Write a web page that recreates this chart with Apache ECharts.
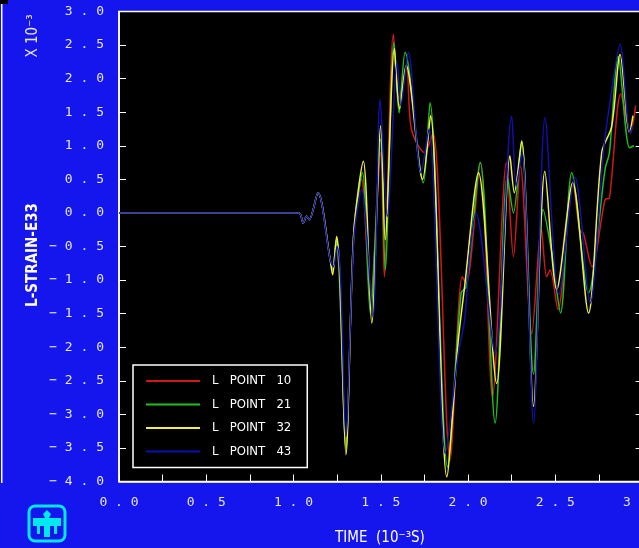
<!DOCTYPE html>
<html>
<head>
<meta charset="utf-8">
<script src="https://cdn.jsdelivr.net/npm/echarts@6/dist/echarts.min.js"></script>
<style>
html,body{margin:0;padding:0;background:#1515ee;}
#chart{width:639px;height:548px;}
</style>
</head>
<body>
<div id="chart"></div>
<script>
// ---- data (time in 1e-3 s, strain in 1e-3) ----
const seriesNames = ['L POINT 10', 'L POINT 21', 'L POINT 32', 'L POINT 43'];
const seriesColors = ['#d01818', '#20c020', '#f0f040', '#1010b0'];

const point10 = [[0,0],[1.03,0],[1.055,-0.15],[1.075,-0.05],[1.09,-0.1],[1.14,0.3],[1.21,-0.7],[1.225,-0.82],[1.245,-0.45],[1.262,-0.9],[1.30,-3.45],[1.345,-0.4],[1.39,0.5],[1.44,-1.3],[1.50,0.9],[1.52,-0.95],[1.572,2.66],[1.605,1.7],[1.648,2.15],[1.675,1.25],[1.75,0.9],[1.80,1.19],[1.897,-3.68],[1.966,-0.95],[1.99,-1.05],[2.07,0.75],[2.14,-2.74],[2.22,0.75],[2.26,-0.65],[2.30,0.7],[2.365,-1.8],[2.42,-0.25],[2.45,-0.95],[2.47,-0.85],[2.515,-1.44],[2.60,0.45],[2.64,-0.27],[2.66,-0.3],[2.71,-0.8],[2.785,0.2],[2.81,0.22],[2.875,1.77],[2.93,1.19],[2.96,1.6]];

const point21 = [[0,0],[1.03,0],[1.055,-0.15],[1.075,-0.05],[1.09,-0.1],[1.14,0.3],[1.21,-0.7],[1.225,-0.85],[1.245,-0.4],[1.262,-0.9],[1.30,-3.5],[1.345,-0.3],[1.395,0.6],[1.44,-1.5],[1.50,1.1],[1.525,-0.85],[1.575,2.54],[1.605,1.49],[1.639,2.39],[1.744,0.45],[1.782,1.64],[1.882,-3.78],[1.96,-1.19],[1.99,-1.1],[2.07,0.75],[2.155,-3.13],[2.225,0.55],[2.26,0.0],[2.307,1.07],[2.375,-2.4],[2.43,0.05],[2.48,-0.6],[2.53,-1.49],[2.594,0.6],[2.69,-1.19],[2.785,0.65],[2.81,0.9],[2.86,2.33],[2.925,0.97],[2.95,1.0]];

const point32 = [[0,0],[1.03,0],[1.055,-0.15],[1.075,-0.05],[1.09,-0.1],[1.14,0.3],[1.21,-0.7],[1.224,-0.92],[1.247,-0.35],[1.265,-0.9],[1.30,-3.6],[1.345,-0.3],[1.40,0.77],[1.448,-1.64],[1.50,1.3],[1.525,-0.4],[1.578,2.45],[1.607,1.55],[1.645,2.2],[1.74,0.5],[1.785,1.45],[1.878,-3.93],[1.944,-1.9],[1.98,-1.1],[2.06,0.6],[2.164,-2.54],[2.24,0.85],[2.265,0.3],[2.307,1.07],[2.375,-2.88],[2.44,0.62],[2.508,-1.14],[2.60,0.45],[2.69,-1.49],[2.766,0.9],[2.823,1.29],[2.871,2.36],[2.925,1.2],[2.945,1.45]];

const point43 = [[0,0],[1.03,0],[1.055,-0.15],[1.075,-0.05],[1.09,-0.1],[1.14,0.3],[1.21,-0.7],[1.228,-0.8],[1.25,-0.5],[1.27,-1.0],[1.30,-3.33],[1.345,-0.4],[1.39,0.35],[1.455,-1.55],[1.496,1.69],[1.537,-0.05],[1.594,2.24],[1.615,1.6],[1.658,2.39],[1.73,0.6],[1.776,1.25],[1.87,-3.58],[1.944,-2.09],[1.98,-1.6],[2.01,-0.6],[2.045,0.0],[2.155,-2.09],[2.25,1.44],[2.275,0.4],[2.31,0.9],[2.375,-3.13],[2.441,1.42],[2.52,-1.21],[2.613,0.53],[2.70,-1.34],[2.775,0.9],[2.81,1.59],[2.871,2.51],[2.928,1.19],[2.945,1.3]];

const seriesData = [point10, point21, point32, point43];

// ---- chart ----
const monoFont = '"DejaVu Sans Mono", "Liberation Mono", monospace';
const condFont = '"DejaVu Sans Condensed", "Liberation Sans", sans-serif';
function spaced(v) {
  return v.toFixed(1).replace('-', '\u2212').split('').join(' ');
}

const chart = echarts.init(document.getElementById('chart'), null, {renderer: 'canvas'});
const option = {
  backgroundColor: '#1515ee',
  animation: false,
  grid: {
    left: 119, top: 11.5, width: 523.6, height: 470,
    outerBoundsMode: 'none', containLabel: false,
    show: true, backgroundColor: '#000', borderColor: '#fff', borderWidth: 1.5
  },
  xAxis: {
    type: 'value', min: 0, max: 3, interval: 0.25,
    axisLine: {show: true, onZero: false, lineStyle: {color: '#fff', width: 1.5}},
    axisTick: {show: true, inside: true, length: 7, lineStyle: {color: '#fff', width: 1}},
    splitLine: {show: false},
    axisLabel: {
      color: '#e4e4e4', fontFamily: monoFont, fontSize: 13, margin: 15, hideOverlap: false,
      showMaxLabel: true, showMinLabel: true,
      formatter: v => (Math.abs(v * 2 - Math.round(v * 2)) < 1e-6 ? spaced(v) : '')
    }
  },
  yAxis: [{
    type: 'value', min: -4, max: 3, interval: 0.5, position: 'left',
    axisLine: {show: true, onZero: false, lineStyle: {color: '#fff', width: 1.5}},
    axisTick: {show: true, inside: true, length: 7, lineStyle: {color: '#fff', width: 1}},
    splitLine: {show: false},
    axisLabel: {color: '#e4e4e4', fontFamily: monoFont, fontSize: 13, margin: 15, formatter: v => spaced(v)}
  }, {
    type: 'value', min: -4, max: 3, interval: 0.5, position: 'right',
    axisLine: {show: true, onZero: false, lineStyle: {color: '#fff', width: 1.5}},
    axisTick: {show: true, inside: true, length: 7, lineStyle: {color: '#fff', width: 1}},
    splitLine: {show: false},
    axisLabel: {show: false}
  }],
  legend: {
    left: 133, top: 365, orient: 'vertical',
    itemWidth: 54, itemHeight: 2, itemGap: 9.5, icon: 'rect',
    padding: [9, 16, 9, 13],
    borderColor: '#fff', borderWidth: 1.5, backgroundColor: '#000', borderRadius: 0,
    selectedMode: false,
    textStyle: {color: '#fff', fontSize: 13, fontFamily: condFont, lineHeight: 14, padding: [0, 0, 0, 7]},
    formatter: n => n.replace(/ /g, '   '),
    data: seriesNames
  },
  series: seriesNames.map((name, i) => ({
    name: name,
    type: 'line',
    data: seriesData[i],
    showSymbol: false,
    smooth: 0.3,
    color: seriesColors[i],
    lineStyle: {width: 1.5, color: seriesColors[i]}
  })),
  graphic: [
    {type: 'rect', shape: {x: 1, y: 3, width: 1.5, height: 480}, style: {fill: '#fff'}, silent: true},
    {type: 'rect', shape: {x: 0, y: 0, width: 8, height: 4}, style: {fill: '#000'}, silent: true},
    {type: 'text', x: 33, y: 255, rotation: Math.PI / 2,
     style: {text: 'L-STRAIN-E33', align: 'center', verticalAlign: 'middle', fill: '#fff', font: 'bold 15px ' + condFont}},
    {type: 'text', x: 33, y: 36, rotation: Math.PI / 2,
     style: {text: 'X 10\u207B\u00B3', align: 'center', verticalAlign: 'middle', fill: '#e4e4e4', font: '15px ' + condFont}},
    {type: 'text', x: 380, y: 538,
     style: {text: 'TIME  (10\u207B\u00B3S)', align: 'center', verticalAlign: 'middle', fill: '#fff', font: '15px ' + condFont}},
    {type: 'rect', shape: {x: 29, y: 506, width: 36, height: 35, r: 6},
     style: {fill: '#1515ee', stroke: '#00e8f0', lineWidth: 3}, silent: true},
    {type: 'polygon', shape: {points: [[47,510],[51,514],[49,518],[61,518],[61,526],[57,526],[57,534],[54,534],[54,526],[50,526],[50,537],[44,537],[44,526],[40,526],[40,534],[37,534],[37,526],[33,526],[33,518],[45,518],[43,514]]},
     style: {fill: '#00e8f0'}, silent: true}
  ]
};
chart.setOption(option);
</script>
</body>
</html>
